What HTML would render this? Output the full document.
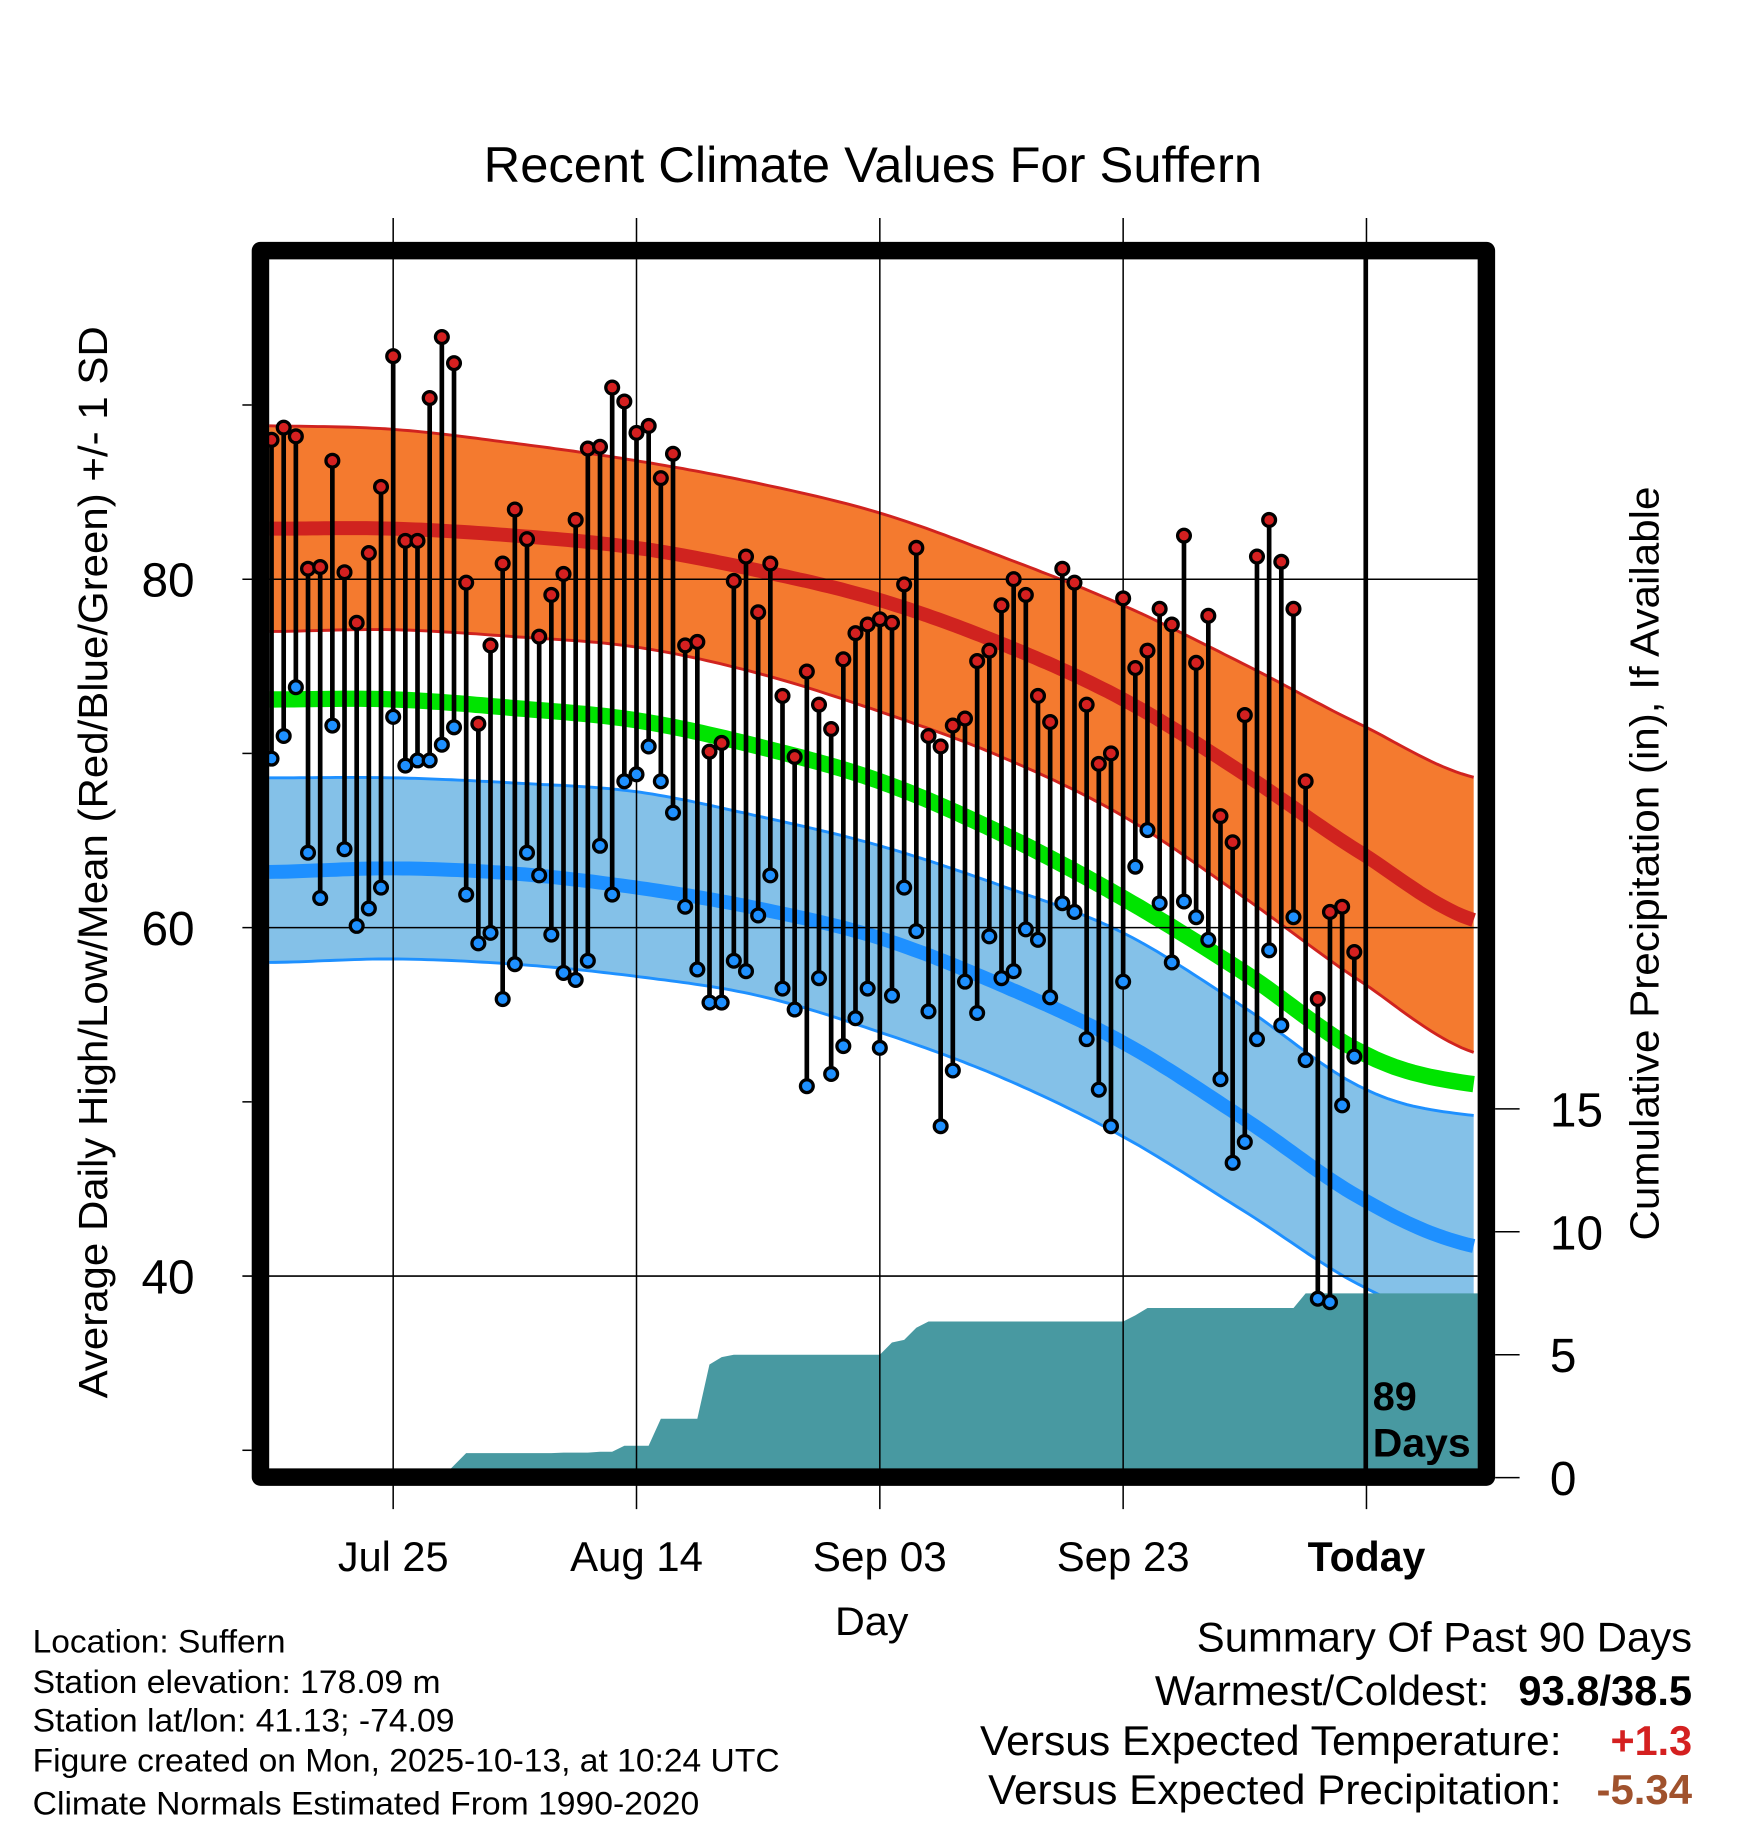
<!DOCTYPE html>
<html><head><meta charset="utf-8"><style>
html,body{margin:0;padding:0;background:#fff;}
svg{display:block;font-family:"Liberation Sans",sans-serif;}
</style></head><body>
<svg id="chart" width="1748" height="1828" viewBox="0 0 1500 1568.6" xmlns="http://www.w3.org/2000/svg">
<text x="749" y="156" font-size="43" text-anchor="middle" textLength="668" lengthAdjust="spacingAndGlyphs">Recent Climate Values For Suffern</text>
<g id="bands"></g>
<g id="precip"></g>
<g id="grid"></g>
<g id="stems"></g>
<line x1="1172" y1="222" x2="1172" y2="1262" stroke="#000" stroke-width="4"/>
<text x="1178" y="1210" font-size="34" font-weight="bold">89</text>
<text x="1178" y="1250" font-size="34" font-weight="bold" textLength="84" lengthAdjust="spacingAndGlyphs">Days</text>
<rect x="223.5" y="215" width="1052" height="1052.5" fill="none" stroke="#000" stroke-width="15" stroke-linejoin="round"/>
<g id="axes"></g>
<text transform="translate(92,740) rotate(-90)" font-size="35" text-anchor="middle" textLength="920" lengthAdjust="spacingAndGlyphs">Average Daily High/Low/Mean (Red/Blue/Green) +/- 1 SD</text>
<text transform="translate(1423,741) rotate(-90)" font-size="35" text-anchor="middle" textLength="647" lengthAdjust="spacingAndGlyphs">Cumulative Precipitation (in), If Available</text>
<text x="748" y="1403" font-size="34" text-anchor="middle" textLength="63" lengthAdjust="spacingAndGlyphs">Day</text>
<g font-size="27.5">
<text x="28" y="1418" textLength="217" lengthAdjust="spacingAndGlyphs">Location: Suffern</text>
<text x="28" y="1453" textLength="350" lengthAdjust="spacingAndGlyphs">Station elevation: 178.09 m</text>
<text x="28" y="1486" textLength="362" lengthAdjust="spacingAndGlyphs">Station lat/lon: 41.13; -74.09</text>
<text x="28" y="1520" textLength="641" lengthAdjust="spacingAndGlyphs">Figure created on Mon, 2025-10-13, at 10:24 UTC</text>
<text x="28" y="1557" textLength="572" lengthAdjust="spacingAndGlyphs">Climate Normals Estimated From 1990-2020</text>
</g>
<g font-size="36">
<text x="1452" y="1417" text-anchor="end" textLength="425" lengthAdjust="spacingAndGlyphs">Summary Of Past 90 Days</text>
<text x="1278" y="1463" text-anchor="end" textLength="287" lengthAdjust="spacingAndGlyphs">Warmest/Coldest:</text>
<text x="1452" y="1463" text-anchor="end" font-weight="bold" textLength="149" lengthAdjust="spacingAndGlyphs">93.8/38.5</text>
<text x="1340" y="1506" text-anchor="end" textLength="499" lengthAdjust="spacingAndGlyphs">Versus Expected Temperature:</text>
<text x="1452" y="1506" text-anchor="end" font-weight="bold" fill="#d42020" textLength="70" lengthAdjust="spacingAndGlyphs">+1.3</text>
<text x="1340" y="1548" text-anchor="end" textLength="492" lengthAdjust="spacingAndGlyphs">Versus Expected Precipitation:</text>
<text x="1452" y="1548" text-anchor="end" font-weight="bold" fill="#a0522d" textLength="82" lengthAdjust="spacingAndGlyphs">-5.34</text>
</g>
</svg>
<script>
// Normals control days (day index from Jul 15)
const normDays = [0,10,20,30,40,50,60,70,80,90,99];
const highUpper = [88.8,88.6,87.8,86.8,85.5,83.8,81.3,78.5,75.1,71.5,68.6];
const highMean  = [82.9,82.9,82.5,81.8,80.5,78.8,76.3,73.1,68.8,64.1,60.4];
const highLower = [77.0,77.1,76.7,76.1,74.6,72.4,69.8,66.4,61.7,56.7,52.8];
const avgMean   = [73.1,73.1,72.6,71.9,70.4,68.4,65.4,61.7,57.4,52.7,51.0];
const lowUpper  = [68.6,68.6,68.3,67.8,66.4,64.7,62.4,59.7,55.4,50.7,49.2];
const lowMean   = [63.2,63.4,63.1,62.3,61.1,59.4,56.7,53.4,49.0,44.3,41.7];
const lowLower  = [58.0,58.2,57.9,57.2,56.1,54.0,51.4,48.0,43.7,39.3,37.0];
const highs = [88.0,88.7,88.2,80.6,80.7,86.8,80.4,77.5,81.5,85.3,92.8,82.2,82.2,90.4,93.9,92.4,79.8,71.7,76.2,80.9,84.0,82.3,76.7,79.1,80.3,83.4,87.5,87.6,91.0,90.2,88.4,88.8,85.8,87.2,76.2,76.4,70.1,70.6,79.9,81.3,78.1,80.9,73.3,69.8,74.7,72.8,71.4,75.4,76.9,77.4,77.7,77.5,79.7,81.8,71.0,70.4,71.6,72.0,75.3,75.9,78.5,80.0,79.1,73.3,71.8,80.6,79.8,72.8,69.4,70.0,78.9,74.9,75.9,78.3,77.4,82.5,75.2,77.9,66.4,64.9,72.2,81.3,83.4,81.0,78.3,68.4,55.9,60.9,61.2,58.6];
const lows = [69.7,71.0,73.8,64.3,61.7,71.6,64.5,60.1,61.1,62.3,72.1,69.3,69.6,69.6,70.5,71.5,61.9,59.1,59.7,55.9,57.9,64.3,63.0,59.6,57.4,57.0,58.1,64.7,61.9,68.4,68.8,70.4,68.4,66.6,61.2,57.6,55.7,55.7,58.1,57.5,60.7,63.0,56.5,55.3,50.9,57.1,51.6,53.2,54.8,56.5,53.1,56.1,62.3,59.8,55.2,48.6,51.8,56.9,55.1,59.5,57.1,57.5,59.9,59.3,56.0,61.4,60.9,53.6,50.7,48.6,56.9,63.5,65.6,61.4,58.0,61.5,60.6,59.3,51.3,46.5,47.7,53.6,58.7,54.4,60.6,52.4,38.7,38.5,49.8,52.6];
const precip = [0,0,0,0,0,0,0,0,0,0,0,0,0,0,0,0.5,1.0,1.0,1.0,1.0,1.0,1.0,1.0,1.0,1.02,1.02,1.02,1.05,1.05,1.3,1.3,1.3,2.4,2.4,2.4,2.4,4.6,4.9,5.0,5.0,5.0,5.0,5.0,5.0,5.0,5.0,5.0,5.0,5.0,5.0,5.0,5.5,5.6,6.1,6.35,6.35,6.35,6.35,6.35,6.35,6.35,6.35,6.35,6.35,6.35,6.35,6.35,6.35,6.35,6.35,6.35,6.6,6.9,6.9,6.9,6.9,6.9,6.9,6.9,6.9,6.9,6.9,6.9,6.9,6.9,7.5,7.5,7.5,7.5,7.5];
const yTicks = [80,60,40];
const yMinor = [90,70,50,30];
const y2Ticks = [0,5,10,15];
const xTickDays = [10,30,50,70,90];
const xTickLabels = ["Jul 25","Aug 14","Sep 03","Sep 23","Today"];

const NS="http://www.w3.org/2000/svg";
const L=231,R=1268,T=222,B=1260;
const xs=d=>233+10.44*d;
const ys=t=>497-(t-80)*14.95;
const yp=p=>1268-p*21.1;
function mk(tag,attrs,parent){const e=document.createElementNS(NS,tag);for(const k in attrs)e.setAttribute(k,attrs[k]);parent.appendChild(e);return e;}
function interp(vals,d){
  let i=0;while(i<normDays.length-2&&d>normDays[i+1])i++;
  const d0=normDays[i],d1=normDays[i+1],u=(d-d0)/(d1-d0);
  const p0=vals[Math.max(i-1,0)],p1=vals[i],p2=vals[i+1],p3=vals[Math.min(i+2,vals.length-1)];
  return 0.5*((2*p1)+(-p0+p2)*u+(2*p0-5*p1+4*p2-p3)*u*u+(-p0+3*p1-3*p2+p3)*u*u*u);
}
const dEnd=(R-233)/10.44, dStart=(L-233)/10.44;
function pts(vals){const a=[];for(let d=dStart;d<=dEnd+0.001;d+=0.5){const dd=Math.min(d,dEnd);a.push([xs(dd),ys(interp(vals,Math.max(dd,0)))]);}return a;}
function line(a){return a.map((p,i)=>(i?'L':'M')+p[0].toFixed(1)+' '+p[1].toFixed(1)).join(' ');}
function band(up,lo){const a=pts(up),b=pts(lo).reverse();return line(a)+' '+b.map(p=>'L'+p[0].toFixed(1)+' '+p[1].toFixed(1)).join(' ')+' Z';}

const bands=document.getElementById('bands');
let e;
e=mk('path',{d:band(highUpper,highLower),fill:'#f47a2f'},bands);


e=mk('path',{d:band(lowUpper,lowLower),fill:'#84c1e8'},bands);


const lineDefs=[[highUpper,'#d0231f',2.5,'high-upper-sd-line'],[highLower,'#d0231f',2.5,'high-lower-sd-line'],[highMean,'#d0231f',12,'high-mean-line'],[avgMean,'#00e400',14,'mean-line'],[lowUpper,'#1e90ff',2.5,'low-upper-sd-line'],[lowLower,'#1e90ff',2.5,'low-lower-sd-line'],[lowMean,'#1e90ff',12,'low-mean-line']];
lineDefs.forEach(ld=>{
  e=mk('path',{d:line(pts(ld[0])),fill:'none',stroke:ld[1],'stroke-width':ld[2]},bands);
  
  
});

const pg=document.getElementById('precip');
let pd='M'+L+' '+yp(0);
precip.forEach((p,i)=>{pd+=' L'+xs(i).toFixed(1)+' '+yp(p).toFixed(1);});
pd+=' L'+R+' '+yp(precip[precip.length-1]).toFixed(1)+' L'+R+' '+yp(0)+' Z';
e=mk('path',{d:pd,fill:'#4899a1'},pg);



const gg=document.getElementById('grid');
xTickDays.forEach(d=>{
  e=mk('line',{x1:xs(d),x2:xs(d),y1:187,y2:1295,stroke:'#000','stroke-width':1.3},gg);
  
  
});
yTicks.forEach(t=>{
  e=mk('line',{x1:208,x2:R,y1:ys(t),y2:ys(t),stroke:'#000','stroke-width':1.3},gg);
  
  
});

const sg=document.getElementById('stems');
highs.forEach((h,i)=>{
  const x=xs(i);
  e=mk('line',{x1:x,x2:x,y1:ys(h),y2:ys(lows[i]),stroke:'#000','stroke-width':4},sg);
  
  
});
highs.forEach((h,i)=>{
  const x=xs(i);
  e=mk('circle',{cx:x,cy:ys(h),r:5.5,fill:'#d42020',stroke:'#000','stroke-width':2.8},sg);
  
  
  e=mk('circle',{cx:x,cy:ys(lows[i]),r:5.5,fill:'#1e90ff',stroke:'#000','stroke-width':2.8},sg);
  
  
});

const ag=document.getElementById('axes');
yTicks.forEach(t=>{
  e=mk('text',{x:167,y:ys(t)+15,'font-size':41,'text-anchor':'end'},ag);e.textContent=t;
  
  
});
yMinor.forEach(t=>{
  e=mk('line',{x1:208,x2:216,y1:ys(t),y2:ys(t),stroke:'#000','stroke-width':1.3},ag);
  
  
});
y2Ticks.forEach(p=>{
  e=mk('line',{x1:1283,x2:1304,y1:yp(p),y2:yp(p),stroke:'#000','stroke-width':1.3},ag);
  
  
  e=mk('text',{x:1330,y:yp(p)+15,'font-size':41},ag);e.textContent=p;
  
  
});
const xLabW=[95,114,115,114,101];
xTickDays.forEach((d,i)=>{
  e=mk('text',{x:xs(d),y:1348,'font-size':36,'text-anchor':'middle','font-weight':i===4?'bold':'normal',textLength:xLabW[i],lengthAdjust:'spacingAndGlyphs'},ag);e.textContent=xTickLabels[i];
  
  
});
</script>
</body></html>
